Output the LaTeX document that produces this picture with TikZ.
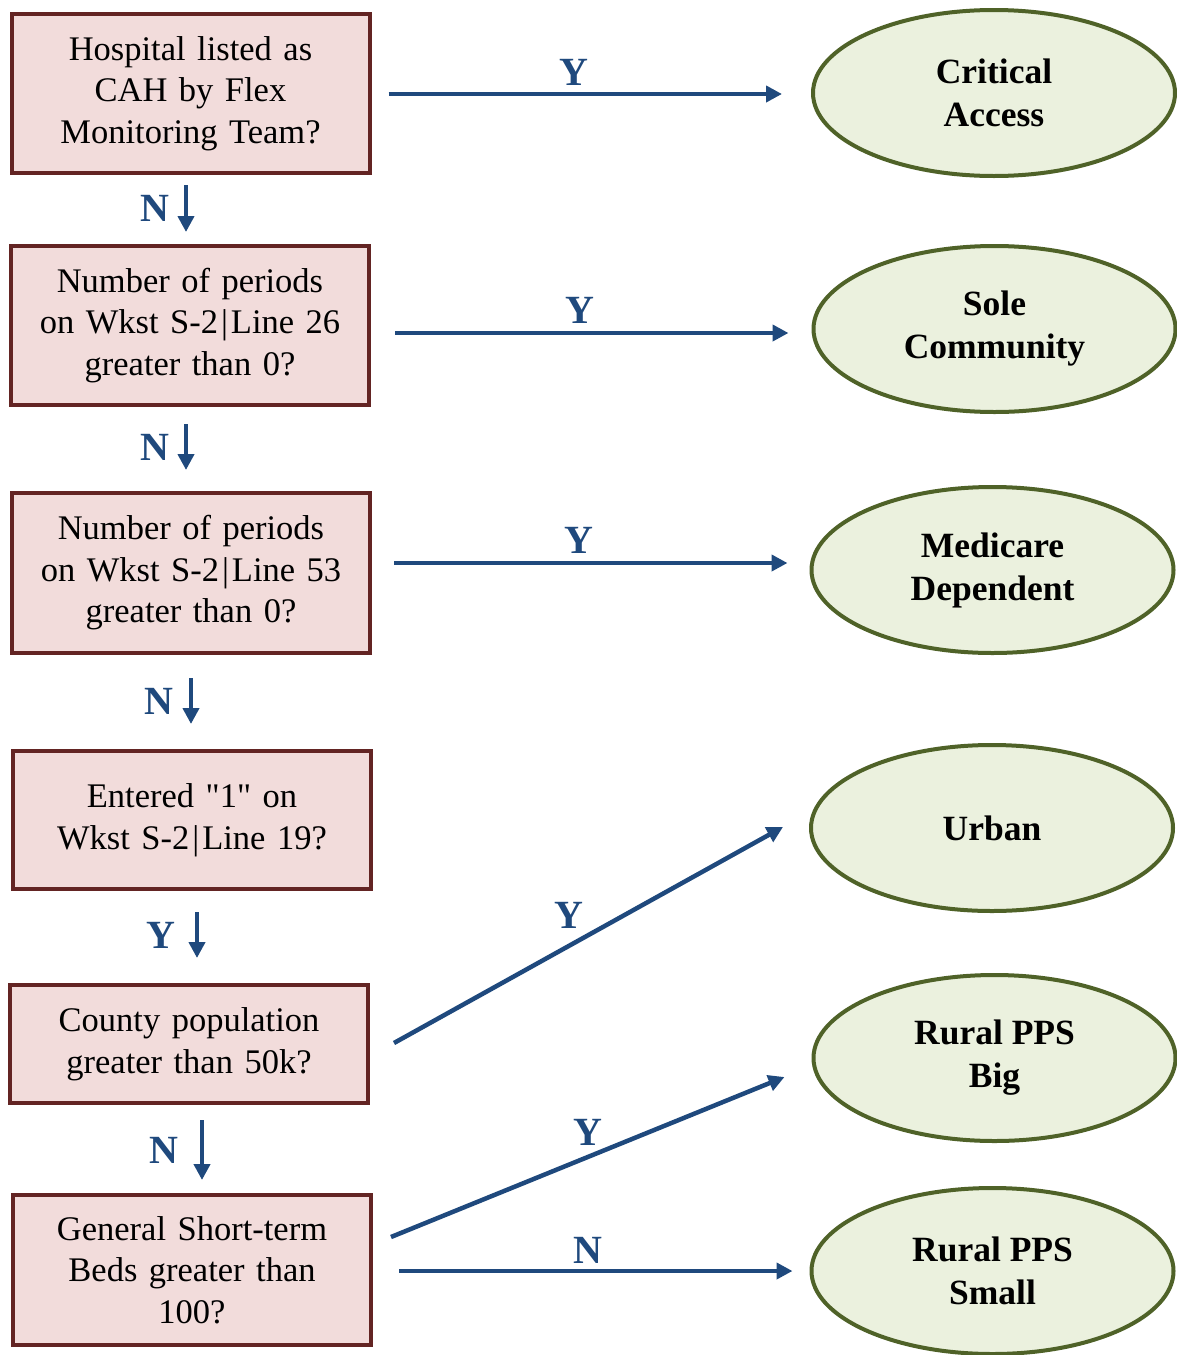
\documentclass[tikz,border=0pt]{standalone}
\usepackage{fontspec}
\setmainfont{Liberation Serif}[Ligatures=TeXOff]
\usetikzlibrary{arrows.meta,shapes.geometric}
\definecolor{boxfill}{HTML}{F2DCDB}
\definecolor{boxline}{HTML}{632423}
\definecolor{ellfill}{HTML}{EBF1DE}
\definecolor{ellline}{HTML}{4F6228}
\definecolor{arrcol}{HTML}{1F497D}
\newcommand{\vbar}{\kern3pt|\kern3pt}
\begin{document}
\begin{tikzpicture}[x=1pt,y=-1pt,
  qbox/.style={draw=boxline, fill=boxfill, line width=4pt, minimum width=358pt,
    text width=350pt, align=center, inner sep=0pt,
    font=\fontsize{34.5}{41.5}\selectfont},
  outc/.style={ellipse, draw=ellline, fill=ellfill, line width=4pt,
    minimum width=362pt, minimum height=166pt, align=center, inner sep=0pt,
    font=\bfseries\fontsize{35.5}{43}\selectfont},
  arr/.style={draw=arrcol, line width=4.5pt, -{Triangle[length=16pt,width=16pt]}},
  lab/.style={text=arrcol, inner sep=0pt, font=\bfseries\fontsize{40}{40}\selectfont}]
\useasboundingbox (0,0) rectangle (1177,1355);
% question boxes
\node[qbox, minimum height=159pt] (b1) at (190.5,93.5) {Hospital listed as\\CAH by Flex\\Monitoring Team?};
\node[qbox, minimum height=159pt] (b2) at (190,325.5) {Number of periods\\on Wkst S-2\vbar Line 26\\greater than 0?};
\node[qbox, minimum height=160pt] (b3) at (191,573) {Number of periods\\on Wkst S-2\vbar Line 53\\greater than 0?};
\node[qbox, minimum height=138pt] (b4) at (192,820) {Entered "1" on\\Wkst S-2\vbar Line 19?};
\node[qbox, minimum height=118pt] (b5) at (189,1044) {County population\\greater than 50k?};
\node[qbox, minimum height=150pt] (b6) at (192,1270) {General Short-term\\Beds greater than\\100?};
% outcome ellipses
\node[outc] (e1) at (994,93) {Critical\\Access};
\node[outc] (e2) at (994.5,329) {Sole\\Community};
\node[outc] (e3) at (992.5,570) {Medicare\\Dependent};
\node[outc] (e4) at (992,828) {Urban};
\node[outc] (e5) at (994.5,1058) {Rural PPS\\Big};
\node[outc] (e6) at (992.5,1271) {Rural PPS\\Small};
% yes / no arrows to the right
\draw[arr] ([shift={(17,0.5)}]b1.east) -- node[lab, pos=0.47, shift={(0,-22)}] {Y} ([shift={(-29,1)}]e1.west);
\draw[arr] ([shift={(24,7.5)}]b2.east) -- node[lab, pos=0.47, shift={(0,-23)}] {Y} ([shift={(-23,4)}]e2.west);
\draw[arr] ([shift={(22,-10)}]b3.east) -- node[lab, pos=0.47, shift={(0,-23)}] {Y} ([shift={(-22,-7)}]e3.west);
\draw[arr] ([shift={(24,-1)}]b5.east) -- node[lab, pos=0.45, shift={(0,-30)}] {Y} ([shift={(-26,-1)}]e4.west);
\draw[arr] ([shift={(18,-33)}]b6.east) -- node[lab, pos=0.5, shift={(0,-25)}] {Y} ([shift={(-27,19)}]e5.west);
\draw[arr] ([shift={(26,1)}]b6.east) -- node[lab, pos=0.48, shift={(0,-21)}] {N} ([shift={(-17,0)}]e6.west);
% downward arrows
\draw[arr] ([shift={(-4.5,10)}]b1.south) -- node[lab, midway, anchor=east, xshift=-14pt] {N} ([shift={(-4.5,-12)}]b1.south |- b2.north);
\draw[arr] ([shift={(-4,17)}]b2.south) -- node[lab, midway, anchor=east, xshift=-14pt] {N} ([shift={(-4,-21)}]b2.south |- b3.north);
\draw[arr] ([shift={(0,23)}]b3.south) -- node[lab, midway, anchor=east, xshift=-15pt] {N} ([shift={(0,-25)}]b3.south |- b4.north);
\draw[arr] ([shift={(5,21)}]b4.south) -- node[lab, midway, anchor=east, xshift=-19pt] {Y} ([shift={(5,-25)}]b4.south |- b5.north);
\draw[arr] ([shift={(13,15)}]b5.south) -- node[lab, midway, anchor=east, xshift=-21pt] {N} ([shift={(13,-13)}]b5.south |- b6.north);
\end{tikzpicture}
\end{document}
